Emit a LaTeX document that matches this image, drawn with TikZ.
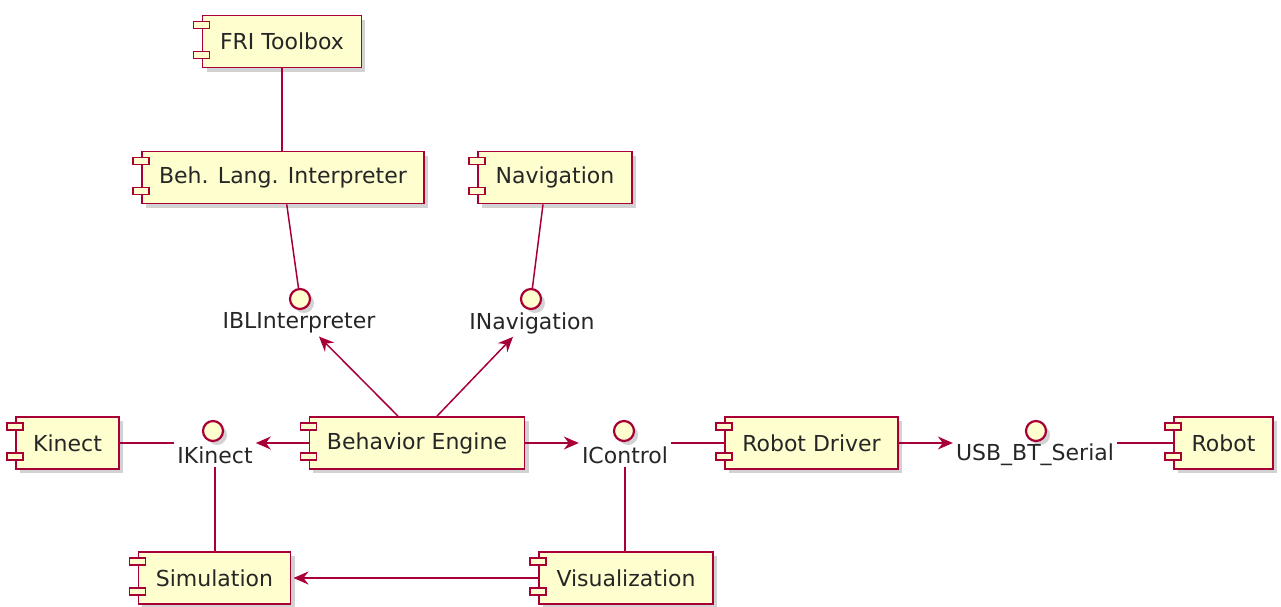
\documentclass[tikz,border=0pt]{standalone}
\usepackage{fontspec}
\setmainfont{DejaVu Sans}
\usetikzlibrary{arrows.meta,shadows,calc}
\definecolor{umlred}{HTML}{A80036}
\definecolor{umlfill}{HTML}{FEFECE}
\tikzset{
  uml shadow/.style={drop shadow={shadow xshift=4pt, shadow yshift=-4pt, opacity=0.25, fill=black!70}},
  comp/.style={draw=umlred, fill=umlfill, line width=1.8pt, minimum height=52pt, inner ysep=0pt, inner xsep=17.5pt,
               font=\fontsize{22}{26}\selectfont, text=black!85, uml shadow},
  port/.style={draw=umlred, fill=umlfill, line width=1.6pt},
  iface/.style={circle, draw=umlred, fill=umlfill, line width=2.2pt, minimum size=20pt, inner sep=0pt, uml shadow},
  ifacetext/.style={inner sep=3pt, font=\fontsize{22}{26}\selectfont, text=black!85},
  link/.style={draw=umlred, line width=1.5pt},
  dep/.style={link, -{Stealth[length=15pt, width=13pt, inset=5pt]}},
}
\begin{document}
\begin{tikzpicture}[x=1pt, y=-1pt]
\useasboundingbox (0,0) rectangle (1281,606);

% components
\node[comp] (fri)    at (282,41.5)   {FRI Toolbox};
\node[comp] (blint)  at (283,177.5)  {Beh. Lang. Interpreter};
\node[comp] (nav)    at (555,177.5)  {Navigation};
\node[comp] (kinect) at (67.5,443)   {Kinect};
\node[comp] (beheng) at (417,443)    {Behavior Engine};
\node[comp] (rdrv)   at (811.5,443)  {Robot Driver};
\node[comp] (robot)  at (1223.5,443) {Robot};
\node[comp] (sim)    at (214.5,578)  {Simulation};
\node[comp] (vis)    at (626,578)    {Visualization};

% component ports
\foreach \n in {fri,blint,nav,kinect,beheng,rdrv,robot,sim,vis}{
  \draw[port] ([shift={(-8pt,-7pt)}]\n.north west) rectangle ++(16pt,-7pt);
  \draw[port] ([shift={(-8pt,10pt)}]\n.south west) rectangle ++(16pt,7pt);
}

% interfaces
\node[iface] (iblC)  at (300,299) {};
\node[ifacetext] (iblT) at (299,323) {IBLInterpreter};
\node[iface] (inavC) at (531,299) {};
\node[ifacetext] (inavT) at (532,323) {INavigation};
\node[iface] (ikinC) at (213,431) {};
\node[ifacetext] (ikinT) at (215,455) {IKinect};
\node[iface] (ictlC) at (624,431) {};
\node[ifacetext] (ictlT) at (625,455) {IControl};
\node[iface] (iusbC) at (1036,431) {};
\node[ifacetext] (iusbT) at (1035,455) {USB\_BT\_Serial};

% connectors
\draw[link] (fri.south) -- (fri.south |- blint.north);
\draw[link] (blint) -- (iblC);
\draw[link] ([xshift=-12pt]nav.south) -- (inavC);
\draw[dep] ([xshift=-19pt]beheng.north) -- ([xshift=20pt]iblT.south);
\draw[dep] ([xshift=20pt]beheng.north) -- ([xshift=-19pt]inavT.south);
\draw[link] (kinect.east) -- (kinect.east -| ikinT.west);
\draw[dep] (beheng.west) -- (beheng.west -| ikinT.east);
\draw[link] (ikinT.south) -- (ikinT.south |- sim.north);
\draw[dep] (beheng.east) -- (beheng.east -| ictlT.west);
\draw[link] (rdrv.west -| ictlT.east) -- (rdrv.west);
\draw[link] (ictlT.south) -- (ictlT.south |- vis.north);
\draw[dep] (rdrv.east) -- (rdrv.east -| iusbT.west);
\draw[link] (robot.west -| iusbT.east) -- (robot.west);
\draw[dep, shorten >=2pt] (vis.west) -- (sim.east);
\end{tikzpicture}
\end{document}
